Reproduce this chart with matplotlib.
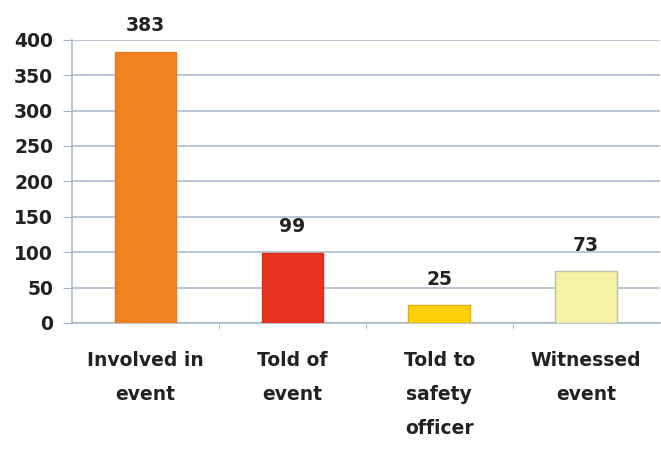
import numpy as np
import matplotlib
matplotlib.use("Agg")
import matplotlib.pyplot as plt

categories = ["Involved in\nevent", "Told of\nevent", "Told to\nsafety\nofficer", "Witnessed\nevent"]
values = [383, 99, 25, 73]
bar_colors = ["#F28121", "#E9321F", "#FDD008", "#F7F3A6"]
edge_colors = ["#E57A20", "#D83020", "#E0B000", "#B9C0A2"]

plt.rcParams['font.family'] = ['DejaVu Sans']
plt.rcParams['font.weight'] = 'bold'

fig = plt.figure(figsize=(6.61, 4.58), dpi=100)
ax = fig.add_axes([0.109, 0.295, 0.889, 0.618])

x = np.arange(len(categories))
bars = ax.bar(x, values, width=0.42, color=bar_colors, edgecolor=edge_colors, linewidth=1.0, zorder=3)

for xi, v in zip(x, values):
    ax.annotate(str(v), (xi, v), xytext=(0, 12), textcoords="offset points",
                ha="center", va="bottom", fontsize=13.5, fontweight="bold", color="#222222")

ax.set_xlim(-0.5, len(categories) - 0.5)
ax.set_ylim(0, 400)
ax.set_yticks(np.arange(0, 401, 50))
ax.set_xticks(x)
ax.set_xticklabels(categories, fontsize=13.5, fontweight="bold", color="#222222", linespacing=2.0, va="top")
ax.set_xticks(np.arange(0.5, len(categories) - 0.5, 1), minor=True)

grid_c = "#A6B6C8"
ax.yaxis.grid(True, color=grid_c, linewidth=1.1, zorder=0)
for s in ["top", "right"]:
    ax.spines[s].set_visible(False)
ax.spines["left"].set_color(grid_c)
ax.spines["bottom"].set_color(grid_c)
ax.spines["left"].set_linewidth(1.1)
ax.spines["bottom"].set_linewidth(1.1)

ax.tick_params(axis="y", length=6.5, color=grid_c, pad=7, labelsize=13.5, labelcolor="#222222")
ax.tick_params(axis="x", which="major", length=0, pad=20)
ax.tick_params(axis="x", which="minor", length=4, color=grid_c)
for lab in ax.get_yticklabels():
    lab.set_fontweight("bold")

fig.savefig("out.png", dpi=100)
